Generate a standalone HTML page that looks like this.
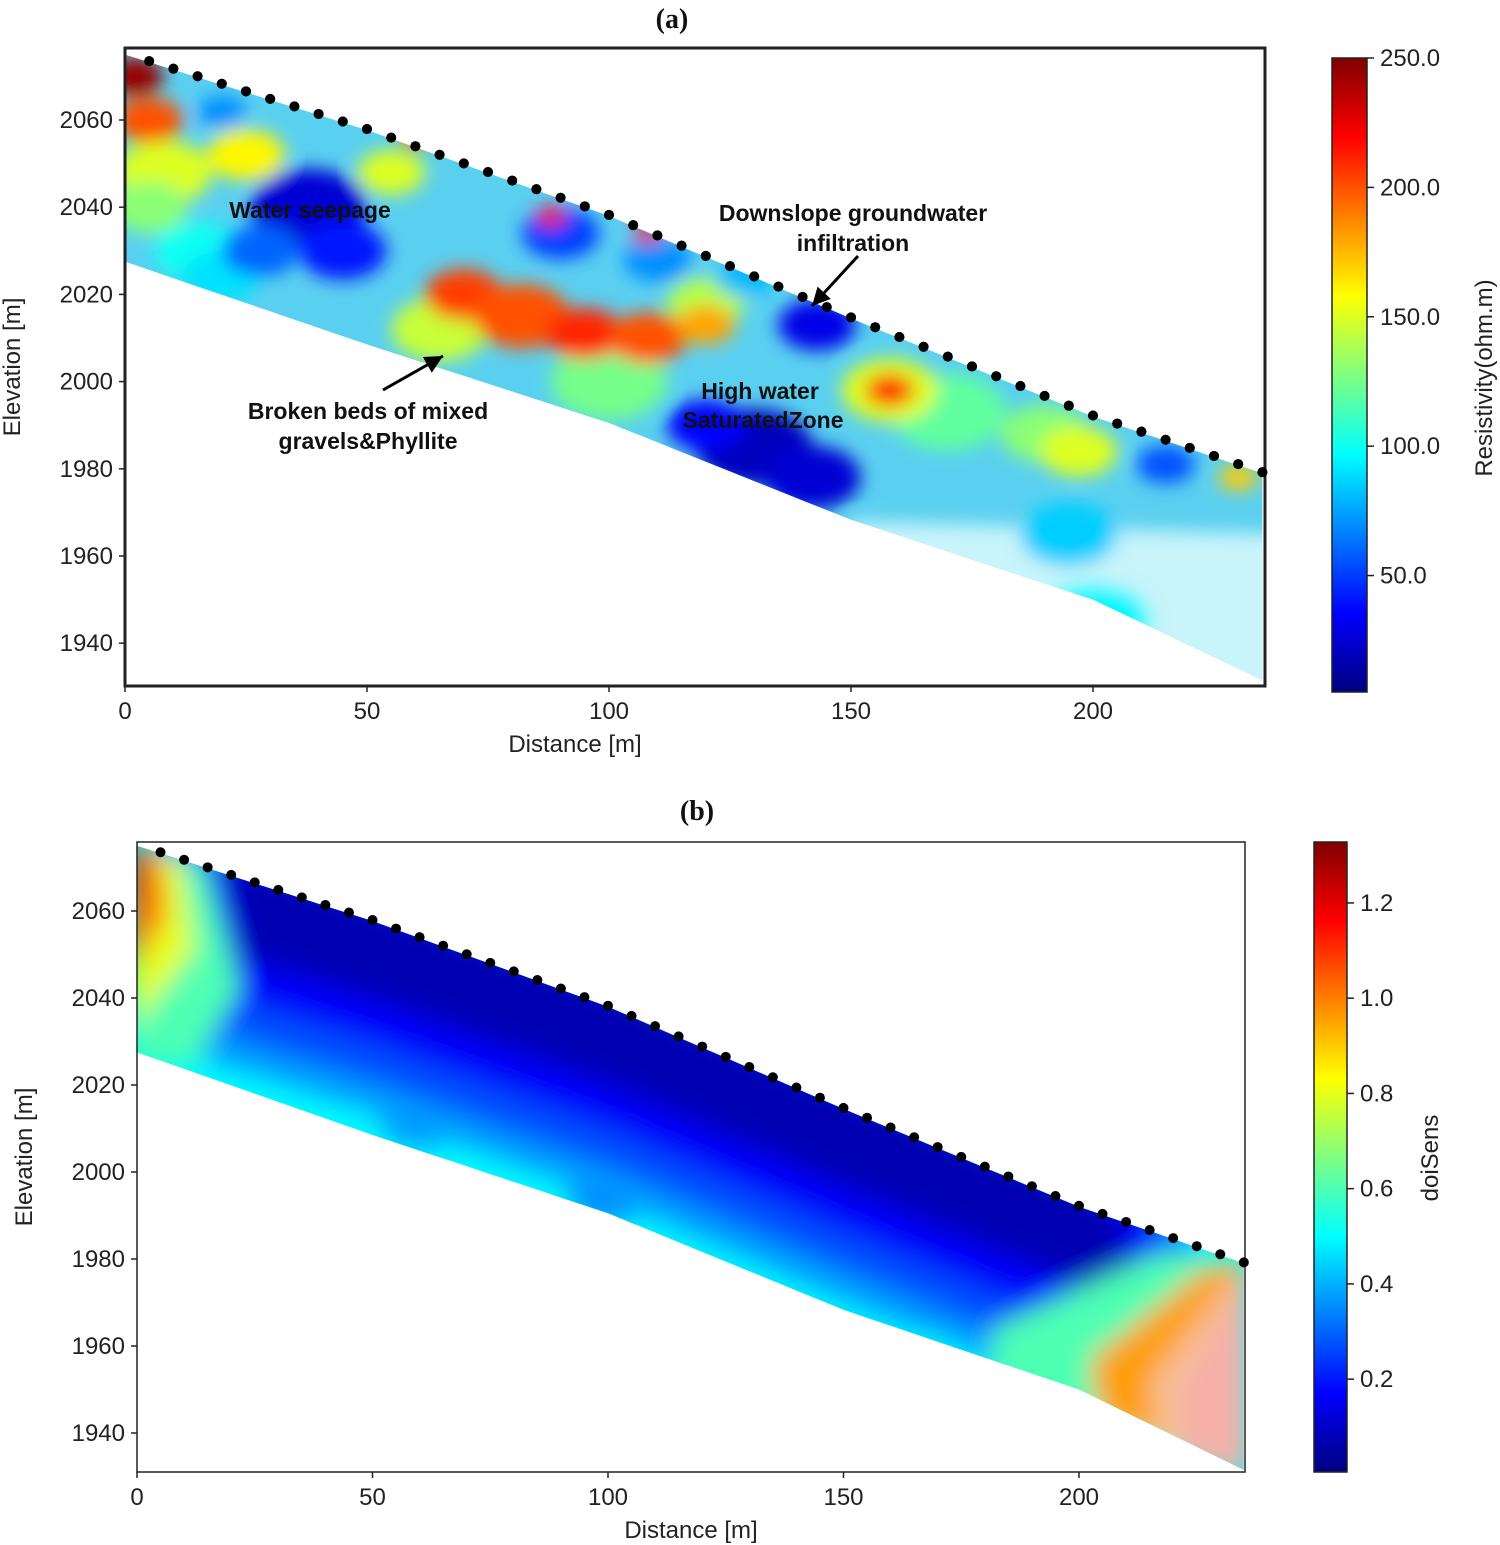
<!DOCTYPE html>
<html><head><meta charset="utf-8"><style>
html,body{margin:0;padding:0;background:#fff;}
svg{display:block;}
text{font-family:"Liberation Sans",sans-serif;}
</style></head><body>
<svg id="fig" width="1500" height="1545" viewBox="0 0 1500 1545" xmlns="http://www.w3.org/2000/svg">
<defs>
<filter id="blurA" x="-20%" y="-20%" width="140%" height="140%"><feGaussianBlur stdDeviation="9"/></filter>
<filter id="blurB" x="-20%" y="-20%" width="140%" height="140%"><feGaussianBlur stdDeviation="13"/></filter>
</defs>
</svg>
<script>
// ---- data ----
const electrodeX = [5,10,15,20,25,30,35,40,45,50,55,60,65,70,75,80,85,90,95,100,105,110,115,120,125,130,135,140,145,150,155,160,165,170,175,180,185,190,195,200,205,210,215,220,225,230,235];
const profileX = [0,50,100,150,200,235];
const surfaceZ = [2075,2057.7,2038,2014.5,1992,1979];
const bottomZ = [2027.5,2008.5,1990.5,1968.3,1950,1931.5];
const xTicks = [0,50,100,150,200];
const yTicks = [1940,1960,1980,2000,2020,2040,2060];
const resTicks = [50,100,150,200,250];
const resTickLabels = ["50.0","100.0","150.0","200.0","250.0"];
const sensTicks = [0.2,0.4,0.6,0.8,1.0,1.2];
const sensTickLabels = ["0.2","0.4","0.6","0.8","1.0","1.2"];
// resistivity anomalies: distance, elevation, radius(m), resistivity
const resBlobX = [8,25,5,15,20,65,100,120,170,190,55, 38,45,28, 90,110,128, 70,82,95,108,120, 143,130,142,120, 158,158, 197,215,230, 2,5,60,88,108,20,195,200];
const resBlobZ = [2048,2052,2040,2030,2024,2012,2000,2018,1993,1988,2048, 2040,2030,2030, 2034,2028,2024, 2020,2015,2011,2010,2013, 2013,1985,1978,1990, 1998,1998, 1984,1981,1978, 2070,2060,2056,2038,2034,2062,1965,1945];
const resBlobR = [10,8,8,9,8,10,12,8,12,9,7, 12,9,8, 8,7,6, 8,10,8,8,6, 8,12,10,8, 10,5, 8,6,4, 6,7,3,3,3,5,10,12];
const resBlobV = [150,160,130,100,90,145,125,140,120,130,150, 25,40,60, 50,70,80, 205,200,210,200,180, 30,20,25,35, 150,210, 150,55,170, 245,200,215,220,225,70,85,95];
// sensitivity anomalies
const sensBlobX = [170,185,100,60];
const sensBlobZ = [1958,1952,1995,2012];
const sensBlobR = [6,6,8,8];
const sensBlobV = [0.5,0.6,0.33,0.36];

function jet(v){ v=Math.max(0,Math.min(1,v));
  const r=Math.max(0,Math.min(1,1.5-Math.abs(4*v-3)));
  const g=Math.max(0,Math.min(1,1.5-Math.abs(4*v-2)));
  const b=Math.max(0,Math.min(1,1.5-Math.abs(4*v-1)));
  return `rgb(${Math.round(r*255)},${Math.round(g*255)},${Math.round(b*255)})`;}
function interp(xs,ys,x){ for(let i=0;i<xs.length-1;i++){ if(x<=xs[i+1]) return ys[i]+(ys[i+1]-ys[i])*(x-xs[i])/(xs[i+1]-xs[i]); } return ys[ys.length-1]; }
const svg=document.getElementById('fig');
const NS='http://www.w3.org/2000/svg';
function mk(tag,attrs,parent){const e=document.createElementNS(NS,tag);for(const k in attrs)e.setAttribute(k,attrs[k]);(parent||svg).appendChild(e);return e;}
function txt(s,attrs,parent){const e=mk('text',attrs,parent);e.textContent=s;return e;}

function panel(P){
  const X=m=>P.x0+P.sx*m, Y=z=>P.y0+(2060-z)*P.sy;
  const g=mk('g',{});
  
  
  let pts=[];
  for(let m=0;m<=235;m+=5) pts.push([X(m),Y(interp(profileX,surfaceZ,m))]);
  for(let m=235;m>=0;m-=5) pts.push([X(m),Y(interp(profileX,bottomZ,m))]);
  const ptsStr=pts.map(p=>p[0].toFixed(1)+','+p[1].toFixed(1)).join(' ');
  const cp=mk('clipPath',{id:'clip'+P.name},svg.querySelector('defs'));
  mk('polygon',{points:ptsStr},cp);
  const fillG=mk('g',{'clip-path':`url(#clip${P.name})`},g);
  
  
  mk('polygon',{points:ptsStr,fill:P.base},fillG);
  const bl=mk('g',{filter:`url(#${P.blur})`},fillG);
  P.drawInner(bl,X,Y,fillG);
  const fr=mk('rect',{x:P.bx0,y:P.by0,width:P.bx1-P.bx0,height:P.by1-P.by0,fill:'none',stroke:'#222','stroke-width':P.frameW},g);
  
  
  electrodeX.forEach(m=>{
    const c=mk('circle',{cx:X(m),cy:Y(interp(profileX,surfaceZ,m))-1,r:5,fill:'#000'},g);
    
    
  });
  xTicks.forEach(t=>{
    mk('line',{x1:X(t),x2:X(t),y1:P.by1,y2:P.by1+6,stroke:'#222','stroke-width':1.5},g);
    const l=txt(String(t),{x:X(t),y:P.by1+33,'font-size':24,'text-anchor':'middle',fill:'#222'},g);
    
    
  });
  yTicks.forEach(t=>{
    mk('line',{x1:P.bx0-6,x2:P.bx0,y1:Y(t),y2:Y(t),stroke:'#222','stroke-width':1.5},g);
    const l=txt(String(t),{x:P.bx0-12,y:Y(t)+8,'font-size':24,'text-anchor':'end',fill:'#222'},g);
    
    
  });
  const xt=txt('Distance [m]',{x:(P.bx0+P.bx1)/2+(P.xtOff||0),y:P.by1+66,'font-size':24,'text-anchor':'middle',fill:'#222'},g);
  
  
  const yt=txt('Elevation [m]',{x:0,y:0,'font-size':24,'text-anchor':'middle',fill:'#222',transform:`translate(${P.ytx},${(P.by0+P.by1)/2}) rotate(-90)`},g);
  
  
  const cb=P.cb;
  const gid='cbgrad'+P.name;
  const lg=mk('linearGradient',{id:gid,x1:0,y1:1,x2:0,y2:0},svg.querySelector('defs'));
  for(let i=0;i<=8;i++) mk('stop',{offset:i/8,'stop-color':jet(i/8)},lg);
  const cbr=mk('rect',{x:cb.x,y:cb.y0,width:cb.w,height:cb.y1-cb.y0,fill:`url(#${gid})`,stroke:'#222','stroke-width':1.5},g);
  
  
  const CY=v=>cb.y1-(v-cb.vmin)/(cb.vmax-cb.vmin)*(cb.y1-cb.y0);
  cb.ticks.forEach((t,i)=>{
    mk('line',{x1:cb.x+cb.w,x2:cb.x+cb.w+7,y1:CY(t),y2:CY(t),stroke:'#222','stroke-width':1.5},g);
    const l=txt(cb.labels[i],{x:cb.x+cb.w+13,y:CY(t)+8,'font-size':24,fill:'#222'},g);
    
    
  });
  const ct=txt(cb.title,{x:0,y:0,'font-size':24,'text-anchor':'middle',fill:'#222',transform:`translate(${cb.tx},${cb.ty}) rotate(-90)`},g);
  
  
  return {X,Y,g};
}

const A=panel({name:'panel-a',x0:125,sx:4.84,y0:120,sy:4.36,bx0:125,bx1:1265,by0:48,by1:686,frameW:3,base:'#5ad0f0',blur:'blurA',ytx:20,xtOff:-120,
  cb:{x:1332,w:35,y0:58,y1:692,vmin:5,vmax:250,ticks:resTicks,labels:resTickLabels,title:'Resistivity(ohm.m)',tx:1492,ty:378},
  drawInner:(bl,X,Y)=>{
    const q=[X(150)+','+Y(1968),X(240)+','+Y(1965),X(240)+','+Y(1925),X(150)+','+Y(1955)];
    mk('polygon',{points:q.join(' '),fill:'#c8f4fa'},bl);
    resBlobX.forEach((m,i)=>{
      const c=mk('ellipse',{cx:X(m),cy:Y(resBlobZ[i]),rx:resBlobR[i]*4.84,ry:resBlobR[i]*3.2,fill:jet((resBlobV[i]-5)/245)},bl);
      
      
    });
  }});
const B=panel({name:'panel-b',x0:137,sx:4.71,y0:911,sy:4.35,bx0:137,bx1:1245,by0:842,by1:1472,frameW:1.5,base:jet(0.37),blur:'blurB',ytx:32,xtOff:0,
  cb:{x:1314,w:33,y0:842,y1:1472,vmin:0.005,vmax:1.328,ticks:sensTicks,labels:sensTickLabels,title:'doiSens',tx:1438,ty:1158},
  drawInner:(bl,X,Y)=>{
    sensBlobX.forEach((m,i)=>{
      const c=mk('ellipse',{cx:X(m),cy:Y(sensBlobZ[i]),rx:sensBlobR[i]*4.71,ry:sensBlobR[i]*3.5,fill:jet(sensBlobV[i]/1.328)},bl);
      
      
    });
    const band=(d0,d1,a,b,col)=>{
      let p=[];
      for(let m=a;m<=b;m+=5)p.push(X(m)+','+Y(interp(profileX,surfaceZ,m)+d0));
      for(let m=b;m>=a;m-=5)p.push(X(m)+','+Y(interp(profileX,surfaceZ,m)-d1));
      mk('polygon',{points:p.join(' '),fill:col},bl);
    };
    band(5,44,5,225,jet(0.28));
    band(5,37,10,222,jet(0.2));
    band(5,28,15,218,jet(0.12));
    band(5,18,18,212,jet(0.05));
    const poly=(s,col)=>mk('polygon',{points:s,fill:col},bl);
    // left corner wedges
    poly('130,840 205,866 240,990 190,1068 130,1060',jet(0.45));
    poly('130,840 180,860 195,950 130,1030',jet(0.6));
    poly('130,840 158,852 165,915 130,975',jet(0.78));
    poly('130,840 146,846 145,885 130,915',jet(0.92));
    // right corner wedges
    poly('1250,1262 1160,1252 990,1330 1000,1400 1250,1480',jet(0.45));
    poly('1250,1262 1205,1268 1090,1360 1100,1420 1250,1480',jet(0.72));
    poly('1250,1262 1230,1280 1150,1380 1155,1440 1250,1480','#f8c090');
    poly('1250,1262 1240,1290 1180,1380 1180,1460 1250,1480','#f6b0a8');
  }});
electrodeX.forEach(m=>{mk('circle',{cx:A.X(m),cy:A.Y(interp(profileX,surfaceZ,m))-1,r:5,fill:'#000'});});
const ann=[["Water seepage",310,218],["Downslope groundwater",853,221],["infiltration",853,251],["Broken beds of mixed",368,419],["gravels&Phyllite",368,449],["High water",760,399],["SaturatedZone",763,428]];
ann.forEach(a=>{
  const t=txt(a[0],{x:a[1],y:a[2],'font-size':23,'font-weight':'bold','text-anchor':'middle',fill:'#111'});
  
  
});
function arrow(x1,y1,x2,y2){
  mk('line',{x1,y1,x2,y2,stroke:'#000','stroke-width':3});
  const ang=Math.atan2(y2-y1,x2-x1),L=18,W=9;
  const bx=x2-L*Math.cos(ang),by=y2-L*Math.sin(ang);
  const a=mk('polygon',{points:`${x2},${y2} ${bx+W*Math.sin(ang)},${by-W*Math.cos(ang)} ${bx-W*Math.sin(ang)},${by+W*Math.cos(ang)}`,fill:'#000'});
  
  
}
arrow(383,390,443,356);
arrow(858,256,812,306);
const ta=txt('(a)',{x:672,y:28,'font-size':28,'font-weight':'bold','text-anchor':'middle',fill:'#111'});


ta.style.fontFamily='"Liberation Serif",serif';
const tb=txt('(b)',{x:697,y:820,'font-size':28,'font-weight':'bold','text-anchor':'middle',fill:'#111'});


tb.style.fontFamily='"Liberation Serif",serif';
</script>
</body></html>
